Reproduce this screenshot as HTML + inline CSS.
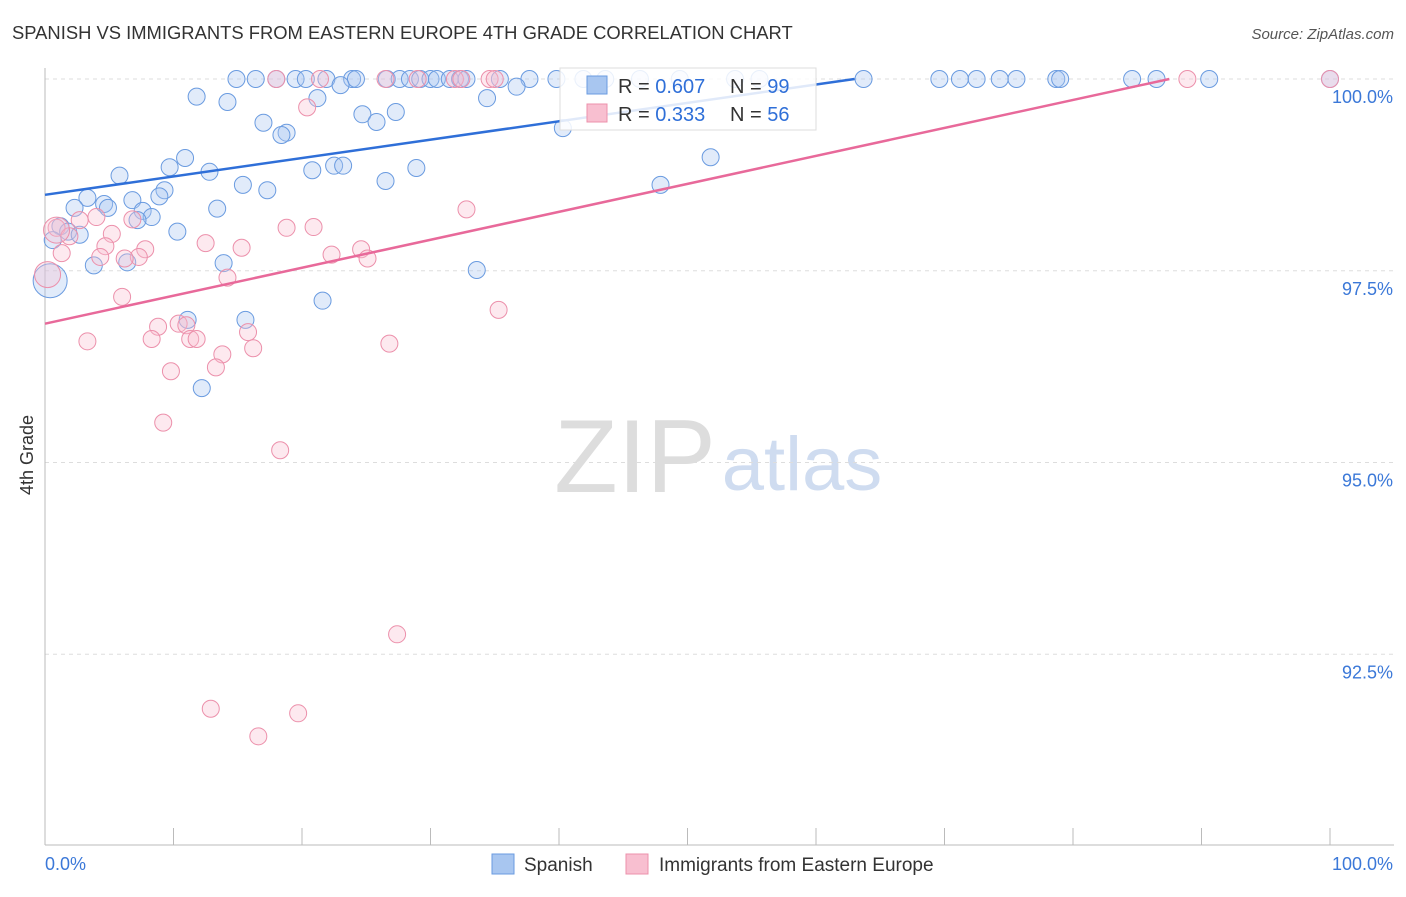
<!DOCTYPE html>
<html><head><meta charset="utf-8"><style>
body{margin:0;background:#fff;font-family:"Liberation Sans",sans-serif;}
svg text{font-family:"Liberation Sans",sans-serif;}
</style></head><body>
<svg id="c" width="1406" height="892" xmlns="http://www.w3.org/2000/svg">
<text x="12" y="39" font-size="18.4" fill="#333">SPANISH VS IMMIGRANTS FROM EASTERN EUROPE 4TH GRADE CORRELATION CHART</text>
<text x="1394" y="39" font-size="15" fill="#555" font-style="italic" text-anchor="end">Source: ZipAtlas.com</text>
<text x="33" y="455" font-size="18" fill="#333" text-anchor="middle" transform="rotate(-90 33 455)">4th Grade</text>
<g><text x="635" y="492" font-size="104" fill="#ddd" font-family="Liberation Serif" text-anchor="middle">ZIP</text><text x="802" y="490" font-size="76" fill="#cfdcf0" text-anchor="middle">atlas</text></g>
<g id="grid"></g><g id="axes"></g><g id="pts"></g><g id="lines"></g>
<g>
<rect x="560" y="68" width="256" height="62" fill="#fff" fill-opacity="0.85" stroke="#ddd"/>
<rect x="587" y="76" width="20" height="18" fill="#a8c6f0" stroke="#6a9be0"/>
<rect x="587" y="104" width="20" height="18" fill="#f8bfd0" stroke="#ec90ab"/>
<text x="618" y="93" font-size="20" fill="#333">R = <tspan fill="#2f6fd8">0.607</tspan><tspan x="730">N = </tspan><tspan fill="#2f6fd8">99</tspan></text>
<text x="618" y="121" font-size="20" fill="#333">R = <tspan fill="#2f6fd8"> 0.333</tspan><tspan x="730">N = </tspan><tspan fill="#2f6fd8">56</tspan></text>
</g>
<g>
<rect x="492" y="854" width="22" height="20" fill="#a8c6f0" stroke="#6a9be0"/>
<text x="524" y="871" font-size="19" fill="#333">Spanish</text>
<rect x="626" y="854" width="22" height="20" fill="#f8bfd0" stroke="#ec90ab"/>
<text x="659" y="871" font-size="19" fill="#333">Immigrants from Eastern Europe</text>
</g>
</svg>
<script>
const yTicks=[100,97.5,95,92.5];
const yTickLabels=["100.0%","97.5%","95.0%","92.5%"];
const blueX=[14.9,16.4,18.0,19.5,20.3,21.9,23.9,24.2,26.6,27.6,28.4,29.2,30.0,30.5,31.5,32.3,32.8,35.4,37.7,39.8,41.9,43.6,46.3,49.4,53.7,55.6,63.7,69.6,71.2,72.5,74.3,75.6,78.7,79.0,84.6,86.5,90.6,100,
11.8,14.2,21.2,34.4,36.7,23.0,17.0,18.8,18.4,24.7,25.8,27.3,40.3,10.9,9.7,12.8,20.8,22.5,23.2,28.9,51.8,5.8,15.4,17.3,26.5,47.9,3.3,6.8,9.3,8.9,2.3,4.6,13.4,4.9,7.6,8.3,7.2,10.3,1.2,1.8,2.7,0.6,3.8,6.4,13.9,33.6,21.6,11.1,15.6,12.2,0.4];
const blueY=[100,100,100,100,100,100,100,100,100,100,100,100,100,100,100,100,100,100,100,100,100,100,100,100,100,100,100,100,100,100,100,100,100,100,100,100,100,100,
99.77,99.70,99.75,99.75,99.90,99.92,99.43,99.30,99.27,99.54,99.44,99.57,99.36,98.97,98.85,98.79,98.81,98.87,98.87,98.84,98.98,98.74,98.62,98.55,98.67,98.62,98.45,98.42,98.55,98.47,98.32,98.37,98.31,98.32,98.28,98.20,98.16,98.01,98.08,98.01,97.97,97.90,97.57,97.61,97.60,97.51,97.11,96.86,96.86,95.97,97.37];
const pinkX=[18.0,21.4,26.5,29.0,31.9,32.4,34.6,35.0,88.9,100,20.4,32.8,4.0,2.7,0.9,1.9,5.2,6.8,4.7,7.8,12.5,15.3,18.8,20.9,24.6,22.3,25.1,7.3,6.2,4.3,1.3,14.2,6.0,35.3,10.4,8.8,11.0,15.8,11.3,11.8,8.3,3.3,26.8,16.2,13.8,13.3,9.8,9.2,18.3,27.4,12.9,19.7,16.6,0.2,0.9];
const pinkY=[100,100,100,100,100,100,100,100,100,100,99.63,98.30,98.20,98.16,98.06,97.95,97.98,98.17,97.82,97.78,97.86,97.80,98.06,98.07,97.78,97.71,97.66,97.68,97.66,97.68,97.73,97.41,97.16,96.99,96.81,96.77,96.79,96.70,96.61,96.61,96.61,96.58,96.55,96.49,96.41,96.24,96.19,95.52,95.16,92.76,91.79,91.73,91.43,97.45,98.03];
const blueLine=[[0,98.49],[63,100]];
const pinkLine=[[0,96.81],[87.5,100]];
const X0=45,X1=1330,Y100=79,PXPER=76.7;
const sx=v=>X0+(X1-X0)*v/100;
const sy=v=>Y100+(100-v)*PXPER;
const NS="http://www.w3.org/2000/svg";
function mk(tag,attrs,parent){const e=document.createElementNS(NS,tag);for(const k in attrs)e.setAttribute(k,attrs[k]);document.getElementById(parent).appendChild(e);return e;}
yTicks.forEach((t,i)=>{
 const g=mk('line',{x1:X0,x2:1394,y1:sy(t),y2:sy(t),stroke:'#ddd','stroke-dasharray':'4,4'},'grid');
 
 
 const l=mk('text',{x:1393,y:sy(t)+24,'font-size':18,fill:'#3b78d8','text-anchor':'end'},'axes');
 l.textContent=yTickLabels[i];
 
 
});
const ax=mk('line',{x1:X0,x2:X0,y1:68,y2:845,stroke:'#bbb'},'axes');


const bx=mk('line',{x1:X0,x2:1394,y1:845,y2:845,stroke:'#bbb'},'axes');


for(let i=0;i<=10;i++){const t=mk('line',{x1:sx(i*10),x2:sx(i*10),y1:828,y2:845,stroke:'#bbb'},'axes');
 
 }
[["0.0%",45,"start"],["100.0%",1393,"end"]].forEach(a=>{const t=mk('text',{x:a[1],y:870,'font-size':18,fill:'#3b78d8','text-anchor':a[2]},'axes');t.textContent=a[0];
 
 });
function pts(xs,ys,fill,stroke,name){xs.forEach((x,i)=>{const big=(i>=xs.length-1&&name==='spanish-point')||(i>=xs.length-2&&name==='immigrant-point');
 const c=mk('circle',{cx:sx(x),cy:sy(ys[i]),r:big?(name==='spanish-point'?17:13):8.5,fill:fill,'fill-opacity':0.35,stroke:stroke,'stroke-width':1},'pts');
 
 });}
pts(blueX,blueY,'#a8c6f0','#6a9be0','spanish-point');
pts(pinkX,pinkY,'#f8bfd0','#ec90ab','immigrant-point');
const l1=mk('line',{x1:sx(blueLine[0][0]),y1:sy(blueLine[0][1]),x2:sx(blueLine[1][0]),y2:sy(blueLine[1][1]),stroke:'#2f6fd8','stroke-width':2.5},'lines');


const l2=mk('line',{x1:sx(pinkLine[0][0]),y1:sy(pinkLine[0][1]),x2:sx(pinkLine[1][0]),y2:sy(pinkLine[1][1]),stroke:'#e8699a','stroke-width':2.5},'lines');


</script>
</body></html>
